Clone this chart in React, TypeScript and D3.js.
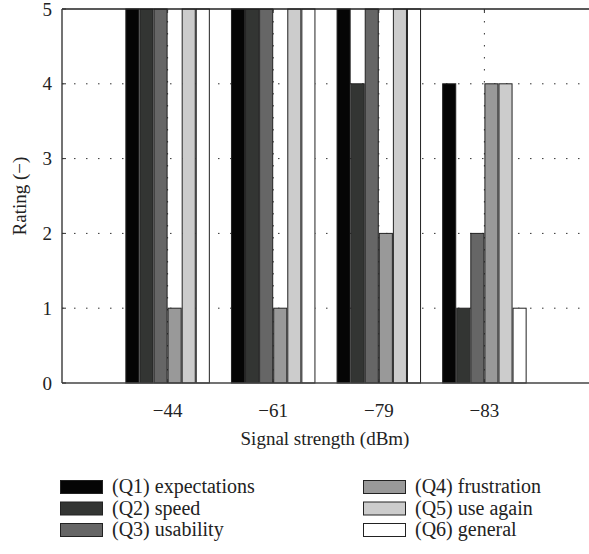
import React from "react";
import * as d3 from "d3";

const categories = ["−44", "−61", "−79", "−83"];
const seriesNames = [
  "(Q1) expectations",
  "(Q2) speed",
  "(Q3) usability",
  "(Q4) frustration",
  "(Q5) use again",
  "(Q6) general",
];
const seriesColors = ["#050505", "#333533", "#666666", "#999999", "#cccccc", "#ffffff"];
// values per series, one per category
const q1 = [5, 5, 5, 4];
const q2 = [5, 5, 4, 1];
const q3 = [5, 5, 5, 2];
const q4 = [1, 1, 2, 4];
const q5 = [5, 5, 5, 4];
const q6 = [5, 5, 5, 1];
const seriesValues = [q1, q2, q3, q4, q5, q6];
const yTicks = [0, 1, 2, 3, 4, 5];

const W = 589;
const H = 554;
const left = 62;
const right = 590;
const top = 9;
const bottom = 383;
const font = "Liberation Serif";

export default function App() {
  const x = d3.scaleLinear().domain([0, categories.length + 1]).range([left, right]);
  const y = d3.scaleLinear().domain([0, 5]).range([bottom, top]);
  const unit = x(1) - x(0);
  const inner = d3
    .scaleBand<number>()
    .domain(d3.range(seriesNames.length))
    .range([-0.4 * unit, 0.4 * unit])
    .padding(0);

  const legendRows = [0, 1, 2];
  return (
    <div style={{ position: "absolute", left: 0, top: 0 }}>
      <svg width={W} height={H} style={{ display: "block" }}>
        <rect x={0} y={0} width={W} height={H} fill="#fff" />
        {/* grid */}
        {yTicks.slice(1, -1).map((t) => (
          <line
            key={"gy" + t}
            x1={left}
            x2={right}
            y1={y(t)}
            y2={y(t)}
            stroke="#333"
            strokeWidth={1}
            strokeDasharray="1.5,10.5"
          />
        ))}
        {categories.map((c, i) => (
          <line
            key={"gx" + c}
            x1={x(i + 1)}
            x2={x(i + 1)}
            y1={top}
            y2={bottom}
            stroke="#333"
            strokeWidth={1}
            strokeDasharray="1.5,10.5"
          />
        ))}
        {/* bars */}
        {seriesValues.map((vals, s) =>
          vals.map((v, i) => {
            const bx = x(i + 1) + (inner(s) as number);
            return (
              <rect
                key={`b${s}-${i}`}
                x={bx + 0.5}
                y={y(v)}
                width={inner.bandwidth() - 1}
                height={y(0) - y(v)}
                fill={seriesColors[s]}
                stroke="#222"
                strokeWidth={1}
              />
            );
          })
        )}
        {/* axes */}
        <line x1={left} x2={right} y1={top} y2={top} stroke="#222" strokeWidth={1.5} />
        <line x1={left} x2={right} y1={bottom} y2={bottom} stroke="#444" strokeWidth={1.5} />
        <line x1={left} x2={left} y1={top} y2={bottom} stroke="#444" strokeWidth={1.5} />
        {yTicks.map((t) => (
          <g key={"yt" + t}>
            <line x1={left} x2={left + 4} y1={y(t)} y2={y(t)} stroke="#333" />
            <text
              x={52}
              y={y(t)}
              dy="0.35em"
              textAnchor="end"
              fontFamily={font}
              fontSize={19}
              fill="#222"
            >
              {t}
            </text>
          </g>
        ))}
        {categories.map((c, i) => (
          <g key={"xt" + c}>
            <line x1={x(i + 1)} x2={x(i + 1)} y1={bottom} y2={bottom - 4} stroke="#333" />
            <line x1={x(i + 1)} x2={x(i + 1)} y1={top} y2={top + 4} stroke="#333" />
            <text
              x={x(i + 1)}
              y={417}
              textAnchor="middle"
              fontFamily={font}
              fontSize={19}
              fill="#222"
            >
              {c}
            </text>
          </g>
        ))}
        <text
          x={325}
          y={445}
          textAnchor="middle"
          fontFamily={font}
          fontSize={19}
          fill="#222"
        >
          Signal strength (dBm)
        </text>
        <text
          transform={`translate(26,${(top + bottom) / 2}) rotate(-90)`}
          textAnchor="middle"
          fontFamily={font}
          fontSize={19}
          fill="#222"
        >
          Rating (−)
        </text>
        {/* legend */}
        {seriesNames.map((name, s) => {
          const col = Math.floor(s / 3);
          const row = legendRows[s % 3];
          const bx = col === 0 ? 60 : 363;
          const by = 480 + row * 21.5;
          return (
            <g key={"lg" + s}>
              <rect
                x={bx + 0.5}
                y={by + 0.5}
                width={42}
                height={13}
                fill={seriesColors[s]}
                stroke="#222"
                strokeWidth={1}
              />
              <text
                x={bx + 52}
                y={by + 13}
                fontFamily={font}
                fontSize={20}
                fill="#222"
              >
                {name}
              </text>
            </g>
          );
        })}
      </svg>
    </div>
  );
}
